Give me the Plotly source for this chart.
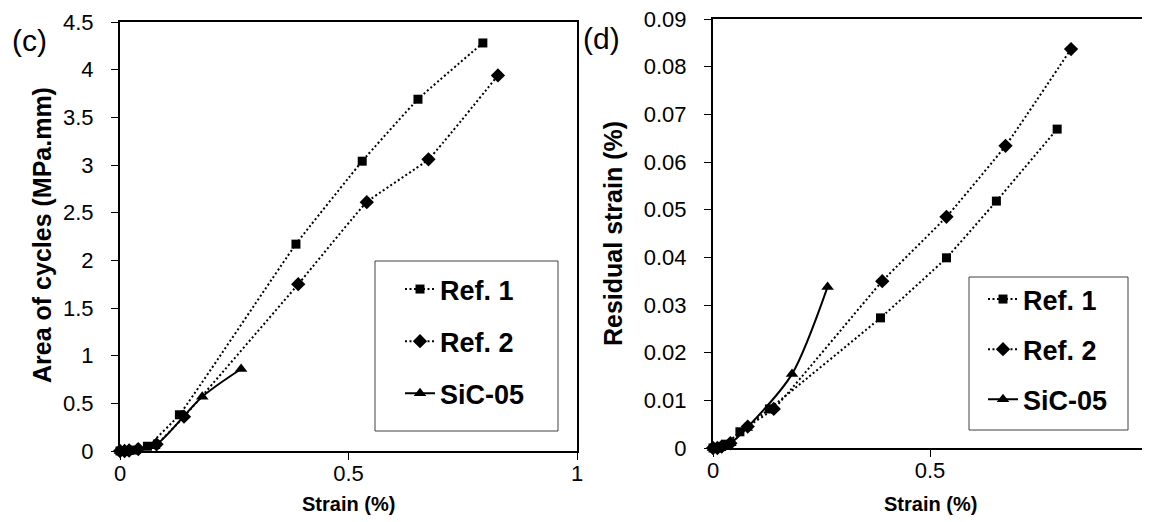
import plotly.graph_objects as go

# ---------------- data ----------------
# Panel (c): area of cycles (MPa.mm) vs strain (%)
c_ref1_x = [0, 0.005, 0.012, 0.02, 0.03, 0.06, 0.13, 0.385, 0.53, 0.652, 0.794]
c_ref1_y = [0, 0, 0, 0.005, 0.01, 0.05, 0.38, 2.17, 3.04, 3.69, 4.28]
c_ref2_x = [0, 0.01, 0.02, 0.04, 0.08, 0.14, 0.39, 0.54, 0.675, 0.827]
c_ref2_y = [0, 0, 0.005, 0.02, 0.07, 0.36, 1.75, 2.61, 3.06, 3.94]
c_sic_x = [0, 0.01, 0.02, 0.037, 0.075, 0.18, 0.265]
c_sic_y = [0, 0, 0.005, 0.02, 0.05, 0.57, 0.86]

# Panel (d): residual strain (%) vs strain (%)
d_ref1_x = [0, 0.005, 0.012, 0.02, 0.03, 0.062, 0.13, 0.386, 0.538, 0.653, 0.793]
d_ref1_y = [0, 0, 0, 0.0003, 0.0008, 0.0034, 0.0082, 0.0273, 0.0399, 0.0518, 0.0669]
d_ref2_x = [0, 0.01, 0.02, 0.04, 0.08, 0.14, 0.39, 0.538, 0.674, 0.825]
d_ref2_y = [0, 0, 0.0003, 0.001, 0.0045, 0.0082, 0.035, 0.0485, 0.0634, 0.0837]
d_sic_x = [0, 0.01, 0.02, 0.04, 0.078, 0.182, 0.264]
d_sic_y = [0, 0, 0.0003, 0.001, 0.0042, 0.0155, 0.0338]

series_names = ["Ref. 1", "Ref. 2", "SiC-05"]
x_ticks = [0, 0.5, 1]
x_ticktext = ["0", "0.5", "1"]
c_yticks = [0, 0.5, 1, 1.5, 2, 2.5, 3, 3.5, 4, 4.5]
c_yticktext = ["0", "0.5", "1", "1.5", "2", "2.5", "3", "3.5", "4", "4.5"]
d_yticks = [0, 0.01, 0.02, 0.03, 0.04, 0.05, 0.06, 0.07, 0.08, 0.09]
d_yticktext = ["0", "0.01", "0.02", "0.03", "0.04", "0.05", "0.06", "0.07", "0.08", "0.09"]

FONT = "Liberation Sans, Arial, sans-serif"

styles = [
    dict(line=dict(color="black", width=2, dash="2px,2.5px", shape="spline", smoothing=0.3),
         marker=dict(symbol="square", size=9, color="black")),
    dict(line=dict(color="black", width=2, dash="2px,2.5px", shape="spline", smoothing=0.3),
         marker=dict(symbol="diamond", size=11, color="black")),
    dict(line=dict(color="black", width=2, shape="spline", smoothing=0.8),
         marker=dict(symbol="triangle-up", size=11, color="black")),
]

fig = go.Figure()

c_data = [(c_ref1_x, c_ref1_y), (c_ref2_x, c_ref2_y), (c_sic_x, c_sic_y)]
d_data = [(d_ref1_x, d_ref1_y), (d_ref2_x, d_ref2_y), (d_sic_x, d_sic_y)]

for i, ((x, y), name) in enumerate(zip(c_data, series_names)):
    fig.add_trace(go.Scatter(x=x, y=y, mode="lines+markers", name="<b>%s</b>" % name,
                             xaxis="x", yaxis="y", legend="legend", legendgroup="c%d" % i,
                             cliponaxis=False, **styles[i]))
for i, ((x, y), name) in enumerate(zip(d_data, series_names)):
    fig.add_trace(go.Scatter(x=x, y=y, mode="lines+markers", name="<b>%s</b>" % name,
                             xaxis="x2", yaxis="y2", legend="legend2", legendgroup="d%d" % i,
                             cliponaxis=False, **styles[i]))

W, H = 1150, 522
OFF = 8  # page body margin offset of the rendered figure

# target pixel geometry (screen coordinates)
cL, cR, cT, cB = 120, 577, 22, 451
dL, dR, dT, dB = 713, 1147, 19, 448

def px(x):
    return (x - OFF) / W

def py(y):
    return (H - (y - OFF)) / H

axis_common = dict(showline=True, linecolor="black", linewidth=2, mirror=True,
                   showgrid=False, zeroline=False, ticks="outside", ticklen=7,
                   tickcolor="black", tickwidth=1, automargin=False,
                   ticklabeloverflow="allow",
                   tickfont=dict(family=FONT, size=22, color="black"))

fig.update_layout(
    width=W, height=H,
    margin=dict(l=0, r=0, t=0, b=0, pad=0, autoexpand=False),
    paper_bgcolor="white", plot_bgcolor="white",
    font=dict(family=FONT, color="black"),
    xaxis=dict(domain=[px(cL), px(cR)], range=[0, 1], anchor="y",
               tickvals=x_ticks, ticktext=x_ticktext, ticklabelstandoff=-5, **axis_common),
    yaxis=dict(domain=[py(cB), py(cT)], range=[0, 4.5], anchor="x",
               tickvals=c_yticks, ticktext=c_yticktext, ticklabelstandoff=13, **axis_common),
    xaxis2=dict(domain=[px(dL), px(dR)], range=[0, 1], anchor="y2",
                tickvals=x_ticks, ticktext=x_ticktext, ticklabelstandoff=-5, **axis_common),
    yaxis2=dict(domain=[py(dB), py(dT)], range=[0, 0.09], anchor="x2",
                tickvals=d_yticks, ticktext=d_yticktext, ticklabelstandoff=13, **axis_common),
    legend=dict(x=px(400), y=py(265), xanchor="left", yanchor="top",
                borderwidth=0, bgcolor="rgba(0,0,0,0)",
                font=dict(family=FONT, size=27, color="black"),
                tracegroupgap=14, itemwidth=30),
    legend2=dict(x=px(983), y=py(275), xanchor="left", yanchor="top",
                 borderwidth=0, bgcolor="rgba(0,0,0,0)",
                 font=dict(family=FONT, size=27, color="black"),
                 tracegroupgap=12, itemwidth=30),
    showlegend=True,
)

# legend frames
fig.add_shape(type="rect", xref="paper", yref="paper", x0=px(375), x1=px(558),
              y0=py(431), y1=py(261), line=dict(color="#404040", width=1), layer="below",
              fillcolor="white")
fig.add_shape(type="rect", xref="paper", yref="paper", x0=px(969), x1=px(1128),
              y0=py(430), y1=py(277), line=dict(color="#404040", width=1), layer="below",
              fillcolor="white")

def ann(text, x, y, size, angle=0):
    return dict(text=text, x=px(x), y=py(y), xref="paper", yref="paper", showarrow=False,
                xanchor="center", yanchor="middle", textangle=angle,
                font=dict(family=FONT, size=size, color="black"))

annotations = [
    ann("(c)", 29, 41, 30),
    ann("(d)", 601, 38, 30),
    ann("<b>Strain (%)</b>", 348, 504, 20),
    ann("<b>Strain (%)</b>", 930, 504, 20),
    ann("<b>Area of cycles (MPa.mm)</b>", 42, 235, 25, -90),
    ann("<b>Residual strain (%)</b>", 613, 234, 25, -90),
]
fig.update_layout(annotations=annotations)

fig.write_html("out.html")
